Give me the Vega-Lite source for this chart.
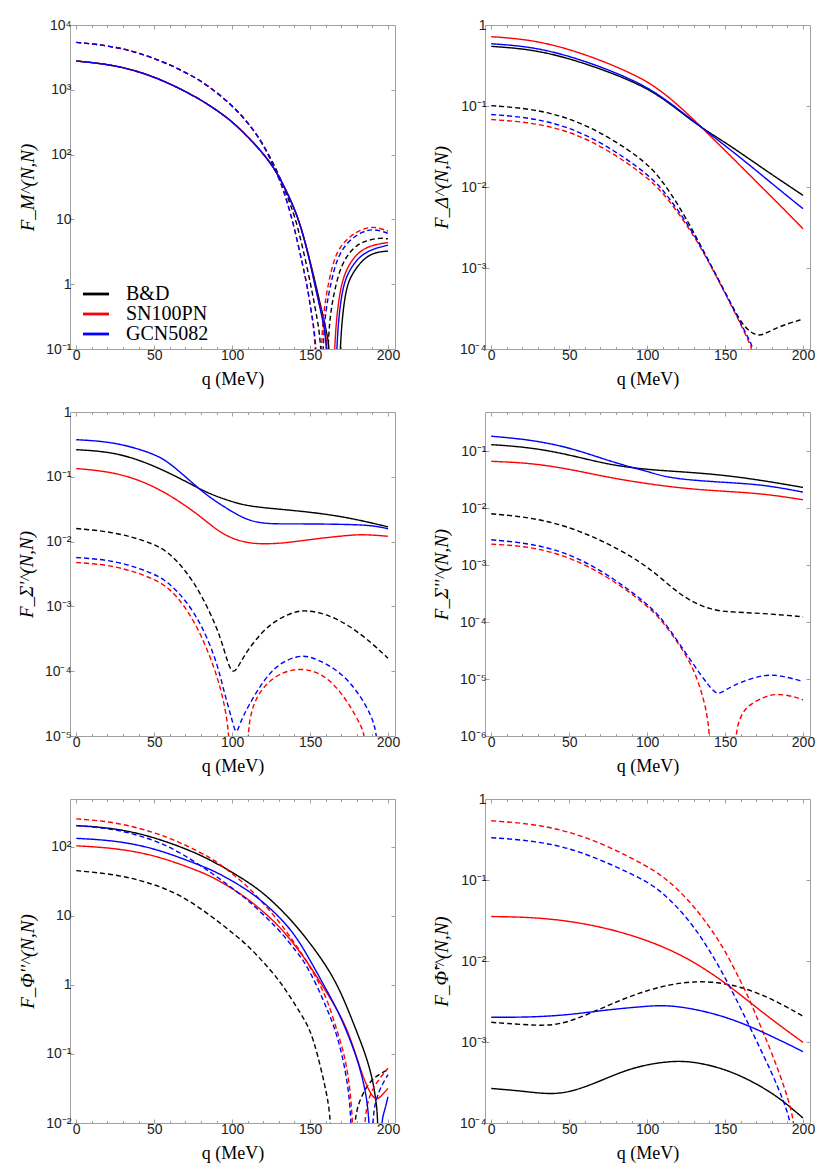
{
  "$schema": "https://vega.github.io/schema/vega-lite/v6.json",
  "padding": {"left": 16, "top": 17, "right": 5, "bottom": 5},
  "background": "white",
  "columns": 2,
  "spacing": {"row": 63, "column": 90},
  "bounds": "flush",
  "resolve": {"scale": {"color": "independent", "strokeDash": "independent"}},
  "config": {
    "view": {"stroke": "#a0a0a0", "strokeWidth": 1},
    "axis": {
      "domain": false, "grid": false,
      "tickSize": -4, "tickColor": "#a0a0a0", "tickWidth": 1,
      "labelFont": "Liberation Sans", "labelFontSize": 14, "labelColor": "#222", "labelPadding": 3,
      "titleFont": "Liberation Serif", "titleFontWeight": "normal", "titleColor": "#000"
    },
    "axisX": {"titleFontSize": 18, "titlePadding": 8},
    "axisY": {"titleFontSize": 19, "titleFontStyle": "italic", "titlePadding": 8}
  },
  "datasets": {
    "fm": [
      {"m":"B&D","ls":"solid","q":0,"v":2780},{"m":"B&D","ls":"solid","q":25,"v":2430},{"m":"B&D","ls":"solid","q":50,"v":1630},{"m":"B&D","ls":"solid","q":75,"v":832},{"m":"B&D","ls":"solid","q":90,"v":490},{"m":"B&D","ls":"solid","q":100,"v":324},{"m":"B&D","ls":"solid","q":110,"v":190},{"m":"B&D","ls":"solid","q":121.5,"v":95},{"m":"B&D","ls":"solid","q":130,"v":48},{"m":"B&D","ls":"solid","q":140,"v":15},{"m":"B&D","ls":"solid","q":145,"v":6.6},{"m":"B&D","ls":"solid","q":150,"v":2.3},{"m":"B&D","ls":"solid","q":153.6,"v":1.0},{"m":"B&D","ls":"solid","q":156,"v":0.56},{"m":"B&D","ls":"solid","q":159,"v":0.28},{"m":"B&D","ls":"solid","q":161,"v":0.16},{"m":"B&D","ls":"solid","q":162.8,"v":0.1},{"m":"B&D","ls":"solid","q":163.3,"v":0.001},{"m":"B&D","ls":"solid","q":168.1,"v":0.001},{"m":"B&D","ls":"solid","q":168.6,"v":0.1},{"m":"B&D","ls":"solid","q":172.3,"v":0.74},{"m":"B&D","ls":"solid","q":176,"v":1.35},{"m":"B&D","ls":"solid","q":183.6,"v":2.4},{"m":"B&D","ls":"solid","q":191,"v":3.1},{"m":"B&D","ls":"solid","q":200,"v":3.25},
      {"m":"B&D","ls":"dashed","q":0,"v":5400},{"m":"B&D","ls":"dashed","q":25,"v":4720},{"m":"B&D","ls":"dashed","q":50,"v":3160},{"m":"B&D","ls":"dashed","q":75,"v":1660},{"m":"B&D","ls":"dashed","q":88,"v":1000},{"m":"B&D","ls":"dashed","q":100,"v":575},{"m":"B&D","ls":"dashed","q":110,"v":316},{"m":"B&D","ls":"dashed","q":120,"v":148},{"m":"B&D","ls":"dashed","q":130,"v":50},{"m":"B&D","ls":"dashed","q":135,"v":24},{"m":"B&D","ls":"dashed","q":140,"v":11.7},{"m":"B&D","ls":"dashed","q":145,"v":4},{"m":"B&D","ls":"dashed","q":150.4,"v":1.0},{"m":"B&D","ls":"dashed","q":154,"v":0.35},{"m":"B&D","ls":"dashed","q":158,"v":0.1},{"m":"B&D","ls":"dashed","q":158.5,"v":0.001},{"m":"B&D","ls":"dashed","q":160.6,"v":0.001},{"m":"B&D","ls":"dashed","q":161.1,"v":0.1},{"m":"B&D","ls":"dashed","q":163,"v":0.35},{"m":"B&D","ls":"dashed","q":165.4,"v":0.74},{"m":"B&D","ls":"dashed","q":169.7,"v":2.0},{"m":"B&D","ls":"dashed","q":178.3,"v":3.9},{"m":"B&D","ls":"dashed","q":186.8,"v":4.8},{"m":"B&D","ls":"dashed","q":195.4,"v":5.2},{"m":"B&D","ls":"dashed","q":200,"v":5.0},
      {"m":"SN100PN","ls":"solid","q":0,"v":2780},{"m":"SN100PN","ls":"solid","q":25,"v":2430},{"m":"SN100PN","ls":"solid","q":50,"v":1630},{"m":"SN100PN","ls":"solid","q":75,"v":832},{"m":"SN100PN","ls":"solid","q":90,"v":490},{"m":"SN100PN","ls":"solid","q":100,"v":324},{"m":"SN100PN","ls":"solid","q":110,"v":190},{"m":"SN100PN","ls":"solid","q":121.5,"v":95},{"m":"SN100PN","ls":"solid","q":130,"v":48},{"m":"SN100PN","ls":"solid","q":140,"v":15},{"m":"SN100PN","ls":"solid","q":145,"v":6.6},{"m":"SN100PN","ls":"solid","q":150,"v":2.2},{"m":"SN100PN","ls":"solid","q":153,"v":1.0},{"m":"SN100PN","ls":"solid","q":156,"v":0.5},{"m":"SN100PN","ls":"solid","q":159,"v":0.25},{"m":"SN100PN","ls":"solid","q":161.7,"v":0.1},{"m":"SN100PN","ls":"solid","q":162.2,"v":0.001},{"m":"SN100PN","ls":"solid","q":164.5,"v":0.001},{"m":"SN100PN","ls":"solid","q":165,"v":0.1},{"m":"SN100PN","ls":"solid","q":168.6,"v":0.74},{"m":"SN100PN","ls":"solid","q":172.9,"v":1.7},{"m":"SN100PN","ls":"solid","q":180.4,"v":3.1},{"m":"SN100PN","ls":"solid","q":189,"v":4.0},{"m":"SN100PN","ls":"solid","q":200,"v":4.4},
      {"m":"SN100PN","ls":"dashed","q":0,"v":5400},{"m":"SN100PN","ls":"dashed","q":25,"v":4720},{"m":"SN100PN","ls":"dashed","q":50,"v":3160},{"m":"SN100PN","ls":"dashed","q":75,"v":1660},{"m":"SN100PN","ls":"dashed","q":88,"v":1000},{"m":"SN100PN","ls":"dashed","q":100,"v":575},{"m":"SN100PN","ls":"dashed","q":110,"v":316},{"m":"SN100PN","ls":"dashed","q":120,"v":148},{"m":"SN100PN","ls":"dashed","q":130,"v":45},{"m":"SN100PN","ls":"dashed","q":135,"v":20},{"m":"SN100PN","ls":"dashed","q":140,"v":7.4},{"m":"SN100PN","ls":"dashed","q":145,"v":2.1},{"m":"SN100PN","ls":"dashed","q":148,"v":1.0},{"m":"SN100PN","ls":"dashed","q":151,"v":0.35},{"m":"SN100PN","ls":"dashed","q":154.3,"v":0.1},{"m":"SN100PN","ls":"dashed","q":154.8,"v":0.001},{"m":"SN100PN","ls":"dashed","q":156.3,"v":0.001},{"m":"SN100PN","ls":"dashed","q":156.8,"v":0.1},{"m":"SN100PN","ls":"dashed","q":159,"v":0.45},{"m":"SN100PN","ls":"dashed","q":162.3,"v":1.2},{"m":"SN100PN","ls":"dashed","q":166.5,"v":3.1},{"m":"SN100PN","ls":"dashed","q":174,"v":5.2},{"m":"SN100PN","ls":"dashed","q":182.5,"v":7.0},{"m":"SN100PN","ls":"dashed","q":191,"v":7.9},{"m":"SN100PN","ls":"dashed","q":200,"v":6.6},
      {"m":"GCN5082","ls":"solid","q":0,"v":2780},{"m":"GCN5082","ls":"solid","q":25,"v":2430},{"m":"GCN5082","ls":"solid","q":50,"v":1630},{"m":"GCN5082","ls":"solid","q":75,"v":832},{"m":"GCN5082","ls":"solid","q":90,"v":490},{"m":"GCN5082","ls":"solid","q":100,"v":324},{"m":"GCN5082","ls":"solid","q":110,"v":190},{"m":"GCN5082","ls":"solid","q":121.5,"v":95},{"m":"GCN5082","ls":"solid","q":130,"v":48},{"m":"GCN5082","ls":"solid","q":140,"v":15},{"m":"GCN5082","ls":"solid","q":145,"v":6.6},{"m":"GCN5082","ls":"solid","q":150,"v":2.2},{"m":"GCN5082","ls":"solid","q":153,"v":1.0},{"m":"GCN5082","ls":"solid","q":156,"v":0.48},{"m":"GCN5082","ls":"solid","q":159,"v":0.22},{"m":"GCN5082","ls":"solid","q":161.1,"v":0.1},{"m":"GCN5082","ls":"solid","q":161.6,"v":0.001},{"m":"GCN5082","ls":"solid","q":165.9,"v":0.001},{"m":"GCN5082","ls":"solid","q":166.4,"v":0.1},{"m":"GCN5082","ls":"solid","q":170,"v":0.74},{"m":"GCN5082","ls":"solid","q":174,"v":1.5},{"m":"GCN5082","ls":"solid","q":181.5,"v":2.7},{"m":"GCN5082","ls":"solid","q":190,"v":3.5},{"m":"GCN5082","ls":"solid","q":200,"v":4.0},
      {"m":"GCN5082","ls":"dashed","q":0,"v":5400},{"m":"GCN5082","ls":"dashed","q":25,"v":4720},{"m":"GCN5082","ls":"dashed","q":50,"v":3160},{"m":"GCN5082","ls":"dashed","q":75,"v":1660},{"m":"GCN5082","ls":"dashed","q":88,"v":1000},{"m":"GCN5082","ls":"dashed","q":100,"v":575},{"m":"GCN5082","ls":"dashed","q":110,"v":316},{"m":"GCN5082","ls":"dashed","q":120,"v":148},{"m":"GCN5082","ls":"dashed","q":130,"v":45},{"m":"GCN5082","ls":"dashed","q":135,"v":20},{"m":"GCN5082","ls":"dashed","q":140,"v":7.4},{"m":"GCN5082","ls":"dashed","q":145,"v":2.1},{"m":"GCN5082","ls":"dashed","q":148,"v":1.0},{"m":"GCN5082","ls":"dashed","q":151,"v":0.35},{"m":"GCN5082","ls":"dashed","q":154.8,"v":0.1},{"m":"GCN5082","ls":"dashed","q":155.3,"v":0.001},{"m":"GCN5082","ls":"dashed","q":157.4,"v":0.001},{"m":"GCN5082","ls":"dashed","q":157.9,"v":0.1},{"m":"GCN5082","ls":"dashed","q":160,"v":0.4},{"m":"GCN5082","ls":"dashed","q":163.4,"v":1.07},{"m":"GCN5082","ls":"dashed","q":167.6,"v":2.7},{"m":"GCN5082","ls":"dashed","q":175,"v":4.8},{"m":"GCN5082","ls":"dashed","q":183.6,"v":6.5},{"m":"GCN5082","ls":"dashed","q":191,"v":7.2},{"m":"GCN5082","ls":"dashed","q":200,"v":6.1}
    ],
    "fd": [
      {"m":"B&D","ls":"solid","q":0,"v":0.545},{"m":"B&D","ls":"solid","q":25,"v":0.504},{"m":"B&D","ls":"solid","q":50,"v":0.389},{"m":"B&D","ls":"solid","q":75,"v":0.266},{"m":"B&D","ls":"solid","q":90,"v":0.202},{"m":"B&D","ls":"solid","q":100,"v":0.163},{"m":"B&D","ls":"solid","q":110,"v":0.124},{"m":"B&D","ls":"solid","q":120,"v":0.0891},{"m":"B&D","ls":"solid","q":130,"v":0.0631},{"m":"B&D","ls":"solid","q":140,"v":0.0468},{"m":"B&D","ls":"solid","q":150,"v":0.0355},{"m":"B&D","ls":"solid","q":160,"v":0.0263},{"m":"B&D","ls":"solid","q":175,"v":0.0166},{"m":"B&D","ls":"solid","q":185,"v":0.0123},{"m":"B&D","ls":"solid","q":200,"v":0.00789},
      {"m":"B&D","ls":"dashed","q":0,"v":0.101},{"m":"B&D","ls":"dashed","q":25,"v":0.0931},{"m":"B&D","ls":"dashed","q":50,"v":0.0721},{"m":"B&D","ls":"dashed","q":75,"v":0.0424},{"m":"B&D","ls":"dashed","q":100,"v":0.02},{"m":"B&D","ls":"dashed","q":110,"v":0.0117},{"m":"B&D","ls":"dashed","q":120,"v":0.00603},{"m":"B&D","ls":"dashed","q":130,"v":0.00275},{"m":"B&D","ls":"dashed","q":140,"v":0.00117},{"m":"B&D","ls":"dashed","q":150,"v":0.000501},{"m":"B&D","ls":"dashed","q":160,"v":0.000214},{"m":"B&D","ls":"dashed","q":165,"v":0.00017},{"m":"B&D","ls":"dashed","q":168,"v":0.000155},{"m":"B&D","ls":"dashed","q":172,"v":0.000146},{"m":"B&D","ls":"dashed","q":176,"v":0.000155},{"m":"B&D","ls":"dashed","q":185,"v":0.000191},{"m":"B&D","ls":"dashed","q":200,"v":0.000234},
      {"m":"SN100PN","ls":"solid","q":0,"v":0.718},{"m":"SN100PN","ls":"solid","q":25,"v":0.661},{"m":"SN100PN","ls":"solid","q":50,"v":0.507},{"m":"SN100PN","ls":"solid","q":75,"v":0.339},{"m":"SN100PN","ls":"solid","q":90,"v":0.251},{"m":"SN100PN","ls":"solid","q":100,"v":0.2},{"m":"SN100PN","ls":"solid","q":110,"v":0.148},{"m":"SN100PN","ls":"solid","q":120,"v":0.102},{"m":"SN100PN","ls":"solid","q":130,"v":0.0676},{"m":"SN100PN","ls":"solid","q":140,"v":0.0437},{"m":"SN100PN","ls":"solid","q":150,"v":0.0282},{"m":"SN100PN","ls":"solid","q":160,"v":0.0182},{"m":"SN100PN","ls":"solid","q":175,"v":0.00933},{"m":"SN100PN","ls":"solid","q":185,"v":0.00603},{"m":"SN100PN","ls":"solid","q":200,"v":0.00305},
      {"m":"SN100PN","ls":"dashed","q":0,"v":0.068},{"m":"SN100PN","ls":"dashed","q":25,"v":0.0631},{"m":"SN100PN","ls":"dashed","q":50,"v":0.0493},{"m":"SN100PN","ls":"dashed","q":75,"v":0.029},{"m":"SN100PN","ls":"dashed","q":100,"v":0.0133},{"m":"SN100PN","ls":"dashed","q":110,"v":0.00851},{"m":"SN100PN","ls":"dashed","q":120,"v":0.00479},{"m":"SN100PN","ls":"dashed","q":130,"v":0.00251},{"m":"SN100PN","ls":"dashed","q":140,"v":0.00115},{"m":"SN100PN","ls":"dashed","q":150,"v":0.00049},{"m":"SN100PN","ls":"dashed","q":160,"v":0.000204},{"m":"SN100PN","ls":"dashed","q":165,"v":0.000126},{"m":"SN100PN","ls":"dashed","q":167.5,"v":0.0001},{"m":"SN100PN","ls":"dashed","q":168.5,"v":0.00005},
      {"m":"GCN5082","ls":"solid","q":0,"v":0.587},{"m":"GCN5082","ls":"solid","q":25,"v":0.542},{"m":"GCN5082","ls":"solid","q":50,"v":0.417},{"m":"GCN5082","ls":"solid","q":75,"v":0.282},{"m":"GCN5082","ls":"solid","q":90,"v":0.211},{"m":"GCN5082","ls":"solid","q":100,"v":0.169},{"m":"GCN5082","ls":"solid","q":110,"v":0.127},{"m":"GCN5082","ls":"solid","q":120,"v":0.0912},{"m":"GCN5082","ls":"solid","q":130,"v":0.0646},{"m":"GCN5082","ls":"solid","q":140,"v":0.0457},{"m":"GCN5082","ls":"solid","q":150,"v":0.0324},{"m":"GCN5082","ls":"solid","q":160,"v":0.0229},{"m":"GCN5082","ls":"solid","q":175,"v":0.0133},{"m":"GCN5082","ls":"solid","q":185,"v":0.00923},{"m":"GCN5082","ls":"solid","q":200,"v":0.0054},
      {"m":"GCN5082","ls":"dashed","q":0,"v":0.0785},{"m":"GCN5082","ls":"dashed","q":25,"v":0.0721},{"m":"GCN5082","ls":"dashed","q":50,"v":0.0552},{"m":"GCN5082","ls":"dashed","q":75,"v":0.0321},{"m":"GCN5082","ls":"dashed","q":100,"v":0.0146},{"m":"GCN5082","ls":"dashed","q":110,"v":0.00933},{"m":"GCN5082","ls":"dashed","q":120,"v":0.00513},{"m":"GCN5082","ls":"dashed","q":130,"v":0.00263},{"m":"GCN5082","ls":"dashed","q":140,"v":0.00117},{"m":"GCN5082","ls":"dashed","q":150,"v":0.000501},{"m":"GCN5082","ls":"dashed","q":160,"v":0.000209},{"m":"GCN5082","ls":"dashed","q":165,"v":0.000135},{"m":"GCN5082","ls":"dashed","q":168.5,"v":0.0001},{"m":"GCN5082","ls":"dashed","q":169.5,"v":0.00005}
    ],
    "fsp": [
      {"m":"B&D","ls":"solid","q":0,"v":0.262},{"m":"B&D","ls":"solid","q":25,"v":0.242},{"m":"B&D","ls":"solid","q":50,"v":0.151},{"m":"B&D","ls":"solid","q":75,"v":0.0741},{"m":"B&D","ls":"solid","q":85,"v":0.055},{"m":"B&D","ls":"solid","q":100,"v":0.041},{"m":"B&D","ls":"solid","q":110,"v":0.0356},{"m":"B&D","ls":"solid","q":125,"v":0.0324},{"m":"B&D","ls":"solid","q":150,"v":0.0287},{"m":"B&D","ls":"solid","q":175,"v":0.0235},{"m":"B&D","ls":"solid","q":200,"v":0.0169},
      {"m":"B&D","ls":"dashed","q":0,"v":0.0159},{"m":"B&D","ls":"dashed","q":25,"v":0.0141},{"m":"B&D","ls":"dashed","q":50,"v":0.00933},{"m":"B&D","ls":"dashed","q":60,"v":0.0066},{"m":"B&D","ls":"dashed","q":70,"v":0.00363},{"m":"B&D","ls":"dashed","q":80,"v":0.00158},{"m":"B&D","ls":"dashed","q":90,"v":0.00049},{"m":"B&D","ls":"dashed","q":95,"v":0.000212},{"m":"B&D","ls":"dashed","q":100,"v":0.00008},{"m":"B&D","ls":"dashed","q":105,"v":0.000132},{"m":"B&D","ls":"dashed","q":110,"v":0.000212},{"m":"B&D","ls":"dashed","q":120,"v":0.00043},{"m":"B&D","ls":"dashed","q":130,"v":0.00065},{"m":"B&D","ls":"dashed","q":140,"v":0.000826},{"m":"B&D","ls":"dashed","q":147,"v":0.000875},{"m":"B&D","ls":"dashed","q":160,"v":0.000776},{"m":"B&D","ls":"dashed","q":175,"v":0.000513},{"m":"B&D","ls":"dashed","q":190,"v":0.000269},{"m":"B&D","ls":"dashed","q":200,"v":0.000158},
      {"m":"SN100PN","ls":"solid","q":0,"v":0.134},{"m":"SN100PN","ls":"solid","q":25,"v":0.119},{"m":"SN100PN","ls":"solid","q":50,"v":0.0741},{"m":"SN100PN","ls":"solid","q":75,"v":0.0305},{"m":"SN100PN","ls":"solid","q":90,"v":0.015},{"m":"SN100PN","ls":"solid","q":100,"v":0.0111},{"m":"SN100PN","ls":"solid","q":110,"v":0.00955},{"m":"SN100PN","ls":"solid","q":120,"v":0.00912},{"m":"SN100PN","ls":"solid","q":135,"v":0.00955},{"m":"SN100PN","ls":"solid","q":150,"v":0.0108},{"m":"SN100PN","ls":"solid","q":175,"v":0.0126},{"m":"SN100PN","ls":"solid","q":185,"v":0.0129},{"m":"SN100PN","ls":"solid","q":200,"v":0.0121},
      {"m":"SN100PN","ls":"dashed","q":0,"v":0.00475},{"m":"SN100PN","ls":"dashed","q":25,"v":0.00433},{"m":"SN100PN","ls":"dashed","q":50,"v":0.00269},{"m":"SN100PN","ls":"dashed","q":60,"v":0.00189},{"m":"SN100PN","ls":"dashed","q":70,"v":0.00099},{"m":"SN100PN","ls":"dashed","q":80,"v":0.00038},{"m":"SN100PN","ls":"dashed","q":90,"v":0.000093},{"m":"SN100PN","ls":"dashed","q":95,"v":0.000032},{"m":"SN100PN","ls":"dashed","q":98.5,"v":0.00001},{"m":"SN100PN","ls":"dashed","q":99,"v":0.000001},{"m":"SN100PN","ls":"dashed","q":109.3,"v":0.000001},{"m":"SN100PN","ls":"dashed","q":109.8,"v":0.00001},{"m":"SN100PN","ls":"dashed","q":112,"v":0.0000224},{"m":"SN100PN","ls":"dashed","q":115,"v":0.000036},{"m":"SN100PN","ls":"dashed","q":120,"v":0.0000575},{"m":"SN100PN","ls":"dashed","q":130,"v":0.000093},{"m":"SN100PN","ls":"dashed","q":143,"v":0.000112},{"m":"SN100PN","ls":"dashed","q":155,"v":0.000098},{"m":"SN100PN","ls":"dashed","q":165,"v":0.000065},{"m":"SN100PN","ls":"dashed","q":175,"v":0.000032},{"m":"SN100PN","ls":"dashed","q":183,"v":0.0000138},{"m":"SN100PN","ls":"dashed","q":185.5,"v":0.00001},{"m":"SN100PN","ls":"dashed","q":186,"v":0.000001},
      {"m":"GCN5082","ls":"solid","q":0,"v":0.374},{"m":"GCN5082","ls":"solid","q":25,"v":0.345},{"m":"GCN5082","ls":"solid","q":50,"v":0.228},{"m":"GCN5082","ls":"solid","q":60,"v":0.164},{"m":"GCN5082","ls":"solid","q":75,"v":0.0785},{"m":"GCN5082","ls":"solid","q":85,"v":0.049},{"m":"GCN5082","ls":"solid","q":100,"v":0.0287},{"m":"GCN5082","ls":"solid","q":110,"v":0.0214},{"m":"GCN5082","ls":"solid","q":120,"v":0.0191},{"m":"GCN5082","ls":"solid","q":130,"v":0.0187},{"m":"GCN5082","ls":"solid","q":150,"v":0.0188},{"m":"GCN5082","ls":"solid","q":175,"v":0.0184},{"m":"GCN5082","ls":"solid","q":190,"v":0.0178},{"m":"GCN5082","ls":"solid","q":200,"v":0.0158},
      {"m":"GCN5082","ls":"dashed","q":0,"v":0.00568},{"m":"GCN5082","ls":"dashed","q":25,"v":0.00516},{"m":"GCN5082","ls":"dashed","q":50,"v":0.00324},{"m":"GCN5082","ls":"dashed","q":60,"v":0.00226},{"m":"GCN5082","ls":"dashed","q":70,"v":0.00126},{"m":"GCN5082","ls":"dashed","q":80,"v":0.00055},{"m":"GCN5082","ls":"dashed","q":90,"v":0.000148},{"m":"GCN5082","ls":"dashed","q":95,"v":0.000046},{"m":"GCN5082","ls":"dashed","q":100,"v":0.0000178},{"m":"GCN5082","ls":"dashed","q":102.5,"v":0.00001},{"m":"GCN5082","ls":"dashed","q":105,"v":0.0000158},{"m":"GCN5082","ls":"dashed","q":110,"v":0.000028},{"m":"GCN5082","ls":"dashed","q":120,"v":0.000072},{"m":"GCN5082","ls":"dashed","q":130,"v":0.000132},{"m":"GCN5082","ls":"dashed","q":142,"v":0.000174},{"m":"GCN5082","ls":"dashed","q":150,"v":0.00017},{"m":"GCN5082","ls":"dashed","q":160,"v":0.000132},{"m":"GCN5082","ls":"dashed","q":170,"v":0.000093},{"m":"GCN5082","ls":"dashed","q":180,"v":0.000051},{"m":"GCN5082","ls":"dashed","q":190,"v":0.00002},{"m":"GCN5082","ls":"dashed","q":193,"v":0.00001},{"m":"GCN5082","ls":"dashed","q":194,"v":0.000003}
    ],
    "fspp": [
      {"m":"B&D","ls":"solid","q":0,"v":0.131},{"m":"B&D","ls":"solid","q":25,"v":0.1175},{"m":"B&D","ls":"solid","q":50,"v":0.0873},{"m":"B&D","ls":"solid","q":75,"v":0.0582},{"m":"B&D","ls":"solid","q":100,"v":0.0475},{"m":"B&D","ls":"solid","q":125,"v":0.0433},{"m":"B&D","ls":"solid","q":150,"v":0.038},{"m":"B&D","ls":"solid","q":175,"v":0.0305},{"m":"B&D","ls":"solid","q":200,"v":0.0232},
      {"m":"B&D","ls":"dashed","q":0,"v":0.008},{"m":"B&D","ls":"dashed","q":25,"v":0.00692},{"m":"B&D","ls":"dashed","q":50,"v":0.00479},{"m":"B&D","ls":"dashed","q":75,"v":0.0024},{"m":"B&D","ls":"dashed","q":90,"v":0.00141},{"m":"B&D","ls":"dashed","q":100,"v":0.000933},{"m":"B&D","ls":"dashed","q":110,"v":0.000562},{"m":"B&D","ls":"dashed","q":120,"v":0.000324},{"m":"B&D","ls":"dashed","q":130,"v":0.000219},{"m":"B&D","ls":"dashed","q":140,"v":0.00017},{"m":"B&D","ls":"dashed","q":150,"v":0.000151},{"m":"B&D","ls":"dashed","q":175,"v":0.000143},{"m":"B&D","ls":"dashed","q":200,"v":0.000124},
      {"m":"SN100PN","ls":"solid","q":0,"v":0.0667},{"m":"SN100PN","ls":"solid","q":25,"v":0.0624},{"m":"SN100PN","ls":"solid","q":50,"v":0.0489},{"m":"SN100PN","ls":"solid","q":75,"v":0.0348},{"m":"SN100PN","ls":"solid","q":100,"v":0.0269},{"m":"SN100PN","ls":"solid","q":125,"v":0.022},{"m":"SN100PN","ls":"solid","q":150,"v":0.0198},{"m":"SN100PN","ls":"solid","q":175,"v":0.018},{"m":"SN100PN","ls":"solid","q":200,"v":0.0141},
      {"m":"SN100PN","ls":"dashed","q":0,"v":0.00234},{"m":"SN100PN","ls":"dashed","q":25,"v":0.00214},{"m":"SN100PN","ls":"dashed","q":50,"v":0.00141},{"m":"SN100PN","ls":"dashed","q":75,"v":0.00063},{"m":"SN100PN","ls":"dashed","q":100,"v":0.0002},{"m":"SN100PN","ls":"dashed","q":110,"v":0.000102},{"m":"SN100PN","ls":"dashed","q":120,"v":0.000043},{"m":"SN100PN","ls":"dashed","q":130,"v":0.0000155},{"m":"SN100PN","ls":"dashed","q":137,"v":0.000004},{"m":"SN100PN","ls":"dashed","q":141,"v":0.000001},{"m":"SN100PN","ls":"dashed","q":141.5,"v":0.00000001},{"m":"SN100PN","ls":"dashed","q":155.2,"v":0.00000001},{"m":"SN100PN","ls":"dashed","q":155.7,"v":0.000001},{"m":"SN100PN","ls":"dashed","q":160,"v":0.0000023},{"m":"SN100PN","ls":"dashed","q":165,"v":0.0000035},{"m":"SN100PN","ls":"dashed","q":175,"v":0.0000049},{"m":"SN100PN","ls":"dashed","q":183,"v":0.0000056},{"m":"SN100PN","ls":"dashed","q":195,"v":0.0000049},{"m":"SN100PN","ls":"dashed","q":200,"v":0.0000043},
      {"m":"GCN5082","ls":"solid","q":0,"v":0.184},{"m":"GCN5082","ls":"solid","q":25,"v":0.16},{"m":"GCN5082","ls":"solid","q":50,"v":0.1175},{"m":"GCN5082","ls":"solid","q":75,"v":0.0686},{"m":"GCN5082","ls":"solid","q":90,"v":0.0525},{"m":"GCN5082","ls":"solid","q":100,"v":0.0445},{"m":"GCN5082","ls":"solid","q":110,"v":0.0363},{"m":"GCN5082","ls":"solid","q":125,"v":0.0316},{"m":"GCN5082","ls":"solid","q":150,"v":0.0284},{"m":"GCN5082","ls":"solid","q":175,"v":0.0259},{"m":"GCN5082","ls":"solid","q":200,"v":0.0192},
      {"m":"GCN5082","ls":"dashed","q":0,"v":0.00279},{"m":"GCN5082","ls":"dashed","q":25,"v":0.00243},{"m":"GCN5082","ls":"dashed","q":50,"v":0.00162},{"m":"GCN5082","ls":"dashed","q":75,"v":0.00069},{"m":"GCN5082","ls":"dashed","q":100,"v":0.000214},{"m":"GCN5082","ls":"dashed","q":110,"v":0.00011},{"m":"GCN5082","ls":"dashed","q":120,"v":0.000045},{"m":"GCN5082","ls":"dashed","q":130,"v":0.0000175},{"m":"GCN5082","ls":"dashed","q":140,"v":0.0000073},{"m":"GCN5082","ls":"dashed","q":145,"v":0.0000052},{"m":"GCN5082","ls":"dashed","q":150,"v":0.0000064},{"m":"GCN5082","ls":"dashed","q":160,"v":0.0000089},{"m":"GCN5082","ls":"dashed","q":175,"v":0.000012},{"m":"GCN5082","ls":"dashed","q":185,"v":0.0000117},{"m":"GCN5082","ls":"dashed","q":200,"v":0.0000091}
    ],
    "fpp": [
      {"m":"B&D","ls":"solid","q":0,"v":202},{"m":"B&D","ls":"solid","q":25,"v":186},{"m":"B&D","ls":"solid","q":50,"v":138},{"m":"B&D","ls":"solid","q":75,"v":85},{"m":"B&D","ls":"solid","q":88.3,"v":60.3},{"m":"B&D","ls":"solid","q":100,"v":42.7},{"m":"B&D","ls":"solid","q":110,"v":30.9},{"m":"B&D","ls":"solid","q":120,"v":21.4},{"m":"B&D","ls":"solid","q":131,"v":12.6},{"m":"B&D","ls":"solid","q":140,"v":7.6},{"m":"B&D","ls":"solid","q":147,"v":4.9},{"m":"B&D","ls":"solid","q":159,"v":2.14},{"m":"B&D","ls":"solid","q":169.4,"v":0.85},{"m":"B&D","ls":"solid","q":180.3,"v":0.2},{"m":"B&D","ls":"solid","q":185.5,"v":0.1},{"m":"B&D","ls":"solid","q":190,"v":0.045},{"m":"B&D","ls":"solid","q":192.5,"v":0.02},{"m":"B&D","ls":"solid","q":193.8,"v":0.01},{"m":"B&D","ls":"solid","q":194.3,"v":0.0001},
      {"m":"B&D","ls":"dashed","q":0,"v":45},{"m":"B&D","ls":"dashed","q":25,"v":39.8},{"m":"B&D","ls":"dashed","q":45.6,"v":30.9},{"m":"B&D","ls":"dashed","q":67,"v":20.4},{"m":"B&D","ls":"dashed","q":88.3,"v":9.3},{"m":"B&D","ls":"dashed","q":100,"v":5.7},{"m":"B&D","ls":"dashed","q":109.7,"v":3.8},{"m":"B&D","ls":"dashed","q":120,"v":2.14},{"m":"B&D","ls":"dashed","q":131.1,"v":1.12},{"m":"B&D","ls":"dashed","q":145,"v":0.355},{"m":"B&D","ls":"dashed","q":150,"v":0.224},{"m":"B&D","ls":"dashed","q":154.7,"v":0.102},{"m":"B&D","ls":"dashed","q":160,"v":0.0316},{"m":"B&D","ls":"dashed","q":164.3,"v":0.01},{"m":"B&D","ls":"dashed","q":164.8,"v":0.0001},{"m":"B&D","ls":"dashed","q":176.5,"v":0.0001},{"m":"B&D","ls":"dashed","q":177,"v":0.01},{"m":"B&D","ls":"dashed","q":182.5,"v":0.024},{"m":"B&D","ls":"dashed","q":188.9,"v":0.0417},{"m":"B&D","ls":"dashed","q":195.3,"v":0.0525},{"m":"B&D","ls":"dashed","q":200,"v":0.059},
      {"m":"SN100PN","ls":"solid","q":0,"v":103},{"m":"SN100PN","ls":"solid","q":25,"v":95.5},{"m":"SN100PN","ls":"solid","q":50,"v":75.9},{"m":"SN100PN","ls":"solid","q":75,"v":47.9},{"m":"SN100PN","ls":"solid","q":88.3,"v":35.8},{"m":"SN100PN","ls":"solid","q":100,"v":24.8},{"m":"SN100PN","ls":"solid","q":110,"v":17.6},{"m":"SN100PN","ls":"solid","q":120,"v":11.5},{"m":"SN100PN","ls":"solid","q":131,"v":6.8},{"m":"SN100PN","ls":"solid","q":140,"v":3.8},{"m":"SN100PN","ls":"solid","q":148,"v":2.19},{"m":"SN100PN","ls":"solid","q":156.8,"v":1.07},{"m":"SN100PN","ls":"solid","q":167.6,"v":0.436},{"m":"SN100PN","ls":"solid","q":175,"v":0.2},{"m":"SN100PN","ls":"solid","q":182.5,"v":0.058},{"m":"SN100PN","ls":"solid","q":187,"v":0.0316},{"m":"SN100PN","ls":"solid","q":192,"v":0.0205},{"m":"SN100PN","ls":"solid","q":196,"v":0.0251},{"m":"SN100PN","ls":"solid","q":200,"v":0.0316},
      {"m":"SN100PN","ls":"dashed","q":0,"v":253},{"m":"SN100PN","ls":"dashed","q":25,"v":229},{"m":"SN100PN","ls":"dashed","q":50,"v":162},{"m":"SN100PN","ls":"dashed","q":67,"v":115},{"m":"SN100PN","ls":"dashed","q":88.3,"v":66},{"m":"SN100PN","ls":"dashed","q":100,"v":40.7},{"m":"SN100PN","ls":"dashed","q":110,"v":26.9},{"m":"SN100PN","ls":"dashed","q":120,"v":15.1},{"m":"SN100PN","ls":"dashed","q":131,"v":7.9},{"m":"SN100PN","ls":"dashed","q":140,"v":4.0},{"m":"SN100PN","ls":"dashed","q":146,"v":2.6},{"m":"SN100PN","ls":"dashed","q":154.7,"v":1.19},{"m":"SN100PN","ls":"dashed","q":161.1,"v":0.608},{"m":"SN100PN","ls":"dashed","q":166.4,"v":0.251},{"m":"SN100PN","ls":"dashed","q":170,"v":0.141},{"m":"SN100PN","ls":"dashed","q":174,"v":0.063},{"m":"SN100PN","ls":"dashed","q":178.2,"v":0.01},{"m":"SN100PN","ls":"dashed","q":178.7,"v":0.0001},{"m":"SN100PN","ls":"dashed","q":183.5,"v":0.0001},{"m":"SN100PN","ls":"dashed","q":184,"v":0.01},{"m":"SN100PN","ls":"dashed","q":187.8,"v":0.025},{"m":"SN100PN","ls":"dashed","q":193,"v":0.04},{"m":"SN100PN","ls":"dashed","q":200,"v":0.062},
      {"m":"GCN5082","ls":"solid","q":0,"v":132},{"m":"GCN5082","ls":"solid","q":25,"v":123},{"m":"GCN5082","ls":"solid","q":50,"v":95.5},{"m":"GCN5082","ls":"solid","q":75,"v":58.9},{"m":"GCN5082","ls":"solid","q":88.3,"v":44.8},{"m":"GCN5082","ls":"solid","q":100,"v":32},{"m":"GCN5082","ls":"solid","q":110,"v":23.4},{"m":"GCN5082","ls":"solid","q":120,"v":15.8},{"m":"GCN5082","ls":"solid","q":131,"v":9.3},{"m":"GCN5082","ls":"solid","q":140,"v":5.4},{"m":"GCN5082","ls":"solid","q":148,"v":2.75},{"m":"GCN5082","ls":"solid","q":156.8,"v":1.2},{"m":"GCN5082","ls":"solid","q":167.6,"v":0.436},{"m":"GCN5082","ls":"solid","q":174,"v":0.2},{"m":"GCN5082","ls":"solid","q":180,"v":0.089},{"m":"GCN5082","ls":"solid","q":185,"v":0.035},{"m":"GCN5082","ls":"solid","q":188.9,"v":0.01},{"m":"GCN5082","ls":"solid","q":189.4,"v":0.0001},{"m":"GCN5082","ls":"solid","q":194.7,"v":0.0001},{"m":"GCN5082","ls":"solid","q":195.2,"v":0.01},{"m":"GCN5082","ls":"solid","q":197.5,"v":0.014},{"m":"GCN5082","ls":"solid","q":200,"v":0.024},
      {"m":"GCN5082","ls":"dashed","q":0,"v":202},{"m":"GCN5082","ls":"dashed","q":25,"v":182},{"m":"GCN5082","ls":"dashed","q":50,"v":126},{"m":"GCN5082","ls":"dashed","q":67,"v":82.6},{"m":"GCN5082","ls":"dashed","q":88.3,"v":39.8},{"m":"GCN5082","ls":"dashed","q":100,"v":25.1},{"m":"GCN5082","ls":"dashed","q":110,"v":17},{"m":"GCN5082","ls":"dashed","q":120,"v":10.4},{"m":"GCN5082","ls":"dashed","q":131,"v":6.0},{"m":"GCN5082","ls":"dashed","q":141.8,"v":2.9},{"m":"GCN5082","ls":"dashed","q":146,"v":2.24},{"m":"GCN5082","ls":"dashed","q":154.7,"v":0.955},{"m":"GCN5082","ls":"dashed","q":161.1,"v":0.436},{"m":"GCN5082","ls":"dashed","q":165.4,"v":0.251},{"m":"GCN5082","ls":"dashed","q":170,"v":0.112},{"m":"GCN5082","ls":"dashed","q":174,"v":0.04},{"m":"GCN5082","ls":"dashed","q":177,"v":0.01},{"m":"GCN5082","ls":"dashed","q":177.5,"v":0.0001},{"m":"GCN5082","ls":"dashed","q":189,"v":0.0001},{"m":"GCN5082","ls":"dashed","q":189.5,"v":0.01},{"m":"GCN5082","ls":"dashed","q":192,"v":0.0214},{"m":"GCN5082","ls":"dashed","q":196,"v":0.0355},{"m":"GCN5082","ls":"dashed","q":200,"v":0.05}
    ],
    "fpt": [
      {"m":"B&D","ls":"solid","q":0,"v":0.000267},{"m":"B&D","ls":"solid","q":20,"v":0.000248},{"m":"B&D","ls":"solid","q":40,"v":0.000222},{"m":"B&D","ls":"solid","q":55,"v":0.000255},{"m":"B&D","ls":"solid","q":70,"v":0.000331},{"m":"B&D","ls":"solid","q":85,"v":0.000439},{"m":"B&D","ls":"solid","q":100,"v":0.000531},{"m":"B&D","ls":"solid","q":120,"v":0.000595},{"m":"B&D","ls":"solid","q":135,"v":0.000547},{"m":"B&D","ls":"solid","q":150,"v":0.00046},{"m":"B&D","ls":"solid","q":165,"v":0.000346},{"m":"B&D","ls":"solid","q":180,"v":0.000236},{"m":"B&D","ls":"solid","q":190,"v":0.000169},{"m":"B&D","ls":"solid","q":200,"v":0.000115},
      {"m":"B&D","ls":"dashed","q":0,"v":0.00175},{"m":"B&D","ls":"dashed","q":20,"v":0.00164},{"m":"B&D","ls":"dashed","q":40,"v":0.00157},{"m":"B&D","ls":"dashed","q":55,"v":0.00193},{"m":"B&D","ls":"dashed","q":70,"v":0.00257},{"m":"B&D","ls":"dashed","q":85,"v":0.00342},{"m":"B&D","ls":"dashed","q":100,"v":0.00434},{"m":"B&D","ls":"dashed","q":115,"v":0.00515},{"m":"B&D","ls":"dashed","q":130,"v":0.0056},{"m":"B&D","ls":"dashed","q":145,"v":0.0055},{"m":"B&D","ls":"dashed","q":160,"v":0.00479},{"m":"B&D","ls":"dashed","q":175,"v":0.00376},{"m":"B&D","ls":"dashed","q":190,"v":0.00269},{"m":"B&D","ls":"dashed","q":200,"v":0.00208},
      {"m":"SN100PN","ls":"solid","q":0,"v":0.0354},{"m":"SN100PN","ls":"solid","q":25,"v":0.0348},{"m":"SN100PN","ls":"solid","q":50,"v":0.0313},{"m":"SN100PN","ls":"solid","q":75,"v":0.0253},{"m":"SN100PN","ls":"solid","q":100,"v":0.0182},{"m":"SN100PN","ls":"solid","q":125,"v":0.0113},{"m":"SN100PN","ls":"solid","q":150,"v":0.0055},{"m":"SN100PN","ls":"solid","q":175,"v":0.00222},{"m":"SN100PN","ls":"solid","q":200,"v":0.00099},
      {"m":"SN100PN","ls":"dashed","q":0,"v":0.538},{"m":"SN100PN","ls":"dashed","q":25,"v":0.498},{"m":"SN100PN","ls":"dashed","q":50,"v":0.4},{"m":"SN100PN","ls":"dashed","q":75,"v":0.263},{"m":"SN100PN","ls":"dashed","q":100,"v":0.148},{"m":"SN100PN","ls":"dashed","q":110,"v":0.111},{"m":"SN100PN","ls":"dashed","q":120,"v":0.076},{"m":"SN100PN","ls":"dashed","q":130,"v":0.0472},{"m":"SN100PN","ls":"dashed","q":140,"v":0.0266},{"m":"SN100PN","ls":"dashed","q":150,"v":0.0136},{"m":"SN100PN","ls":"dashed","q":160,"v":0.0056},{"m":"SN100PN","ls":"dashed","q":165,"v":0.0036},{"m":"SN100PN","ls":"dashed","q":170,"v":0.0021},{"m":"SN100PN","ls":"dashed","q":180,"v":0.00074},{"m":"SN100PN","ls":"dashed","q":190,"v":0.00022},{"m":"SN100PN","ls":"dashed","q":194.5,"v":0.0001},{"m":"SN100PN","ls":"dashed","q":195,"v":0.00005},
      {"m":"GCN5082","ls":"solid","q":0,"v":0.00202},{"m":"GCN5082","ls":"solid","q":25,"v":0.00202},{"m":"GCN5082","ls":"solid","q":50,"v":0.00216},{"m":"GCN5082","ls":"solid","q":75,"v":0.00251},{"m":"GCN5082","ls":"solid","q":100,"v":0.00277},{"m":"GCN5082","ls":"solid","q":110,"v":0.00284},{"m":"GCN5082","ls":"solid","q":125,"v":0.00269},{"m":"GCN5082","ls":"solid","q":150,"v":0.00209},{"m":"GCN5082","ls":"solid","q":175,"v":0.00132},{"m":"GCN5082","ls":"solid","q":200,"v":0.00076},
      {"m":"GCN5082","ls":"dashed","q":0,"v":0.333},{"m":"GCN5082","ls":"dashed","q":25,"v":0.309},{"m":"GCN5082","ls":"dashed","q":50,"v":0.251},{"m":"GCN5082","ls":"dashed","q":75,"v":0.163},{"m":"GCN5082","ls":"dashed","q":100,"v":0.0964},{"m":"GCN5082","ls":"dashed","q":110,"v":0.0692},{"m":"GCN5082","ls":"dashed","q":120,"v":0.045},{"m":"GCN5082","ls":"dashed","q":130,"v":0.0266},{"m":"GCN5082","ls":"dashed","q":140,"v":0.01365},{"m":"GCN5082","ls":"dashed","q":150,"v":0.0063},{"m":"GCN5082","ls":"dashed","q":160,"v":0.00263},{"m":"GCN5082","ls":"dashed","q":170,"v":0.00105},{"m":"GCN5082","ls":"dashed","q":180,"v":0.000417},{"m":"GCN5082","ls":"dashed","q":187,"v":0.0002},{"m":"GCN5082","ls":"dashed","q":192.5,"v":0.0001},{"m":"GCN5082","ls":"dashed","q":193,"v":0.00005}
    ]
  },
  "concat": [
    {
      "width": 325, "height": 324,
      "data": {"name": "fm"},
      "layer": [
        {"mark": {"type": "line", "clip": true, "strokeWidth": 1.4, "interpolate": "basis"},
         "encoding": {
           "x": {"field": "q", "type": "quantitative", "scale": {"domain": [-4, 204.5], "nice": false, "zero": false}, "axis": {"orient": "bottom", "values": [0, 50, 100, 150, 200], "title": "q (MeV)"}},
           "y": {"field": "v", "type": "quantitative", "scale": {"type": "log", "domain": [0.1, 10000], "nice": false}, "axis": {"orient": "left", "values": [0.1, 1, 10, 100, 1000, 10000], "labelExpr": "['10⁻⁶','10⁻⁵','10⁻⁴','10⁻³','10⁻²','10⁻¹','1','10','10²','10³','10⁴'][round(log(datum.value)/LN10)+6]", "title": "F_M^(N,N)"}},
           "color": {"field": "m", "type": "nominal", "scale": {"domain": ["B&D", "SN100PN", "GCN5082"], "range": ["#000000", "#ff0000", "#0000ff"]},
             "legend": {"orient": "none", "legendX": 16, "legendY": 259, "title": null, "symbolType": "M-2.6,0H2.6", "symbolSize": 100, "symbolStrokeWidth": 2.8, "labelFont": "Liberation Serif", "labelFontSize": 20, "labelColor": "#000", "labelOffset": 20, "rowPadding": 0, "padding": 0}},
           "strokeDash": {"field": "ls", "type": "nominal", "scale": {"domain": ["solid", "dashed"], "range": [[1, 0], [5, 3]]}, "legend": null}
         }},
        {"mark": {"type": "point", "opacity": 0},
         "encoding": {
           "x": {"field": "q", "type": "quantitative", "scale": {"domain": [-4, 204.5], "nice": false, "zero": false}, "axis": {"orient": "bottom", "values": [10, 20, 30, 40, 60, 70, 80, 90, 110, 120, 130, 140, 160, 170, 180, 190], "labels": false, "tickSize": -2.5, "title": null}},
           "y": {"field": "v", "type": "quantitative", "scale": {"type": "log", "domain": [0.1, 10000], "nice": false}, "axis": {"orient": "right", "values": [0.1, 1, 10, 100, 1000, 10000], "labels": false, "title": null}}
         }},
        {"mark": {"type": "point", "opacity": 0},
         "encoding": {
           "x": {"field": "q", "type": "quantitative", "scale": {"domain": [-4, 204.5], "nice": false, "zero": false}, "axis": {"orient": "top", "values": [0, 50, 100, 150, 200], "labels": false, "title": null}},
           "y": {"field": "v", "type": "quantitative", "scale": {"type": "log", "domain": [0.1, 10000], "nice": false}, "axis": null}
         }},
        {"mark": {"type": "point", "opacity": 0},
         "encoding": {
           "x": {"field": "q", "type": "quantitative", "scale": {"domain": [-4, 204.5], "nice": false, "zero": false}, "axis": {"orient": "top", "values": [10, 20, 30, 40, 60, 70, 80, 90, 110, 120, 130, 140, 160, 170, 180, 190], "labels": false, "tickSize": -2.5, "title": null}},
           "y": {"field": "v", "type": "quantitative", "scale": {"type": "log", "domain": [0.1, 10000], "nice": false}, "axis": null}
         }}
      ],
      "resolve": {"axis": {"x": "independent", "y": "independent"}}
    },
    {
      "width": 325, "height": 324,
      "data": {"name": "fd"},
      "layer": [
        {"mark": {"type": "line", "clip": true, "strokeWidth": 1.4, "interpolate": "basis"},
         "encoding": {
           "x": {"field": "q", "type": "quantitative", "scale": {"domain": [-4, 204.5], "nice": false, "zero": false}, "axis": {"orient": "bottom", "values": [0, 50, 100, 150, 200], "title": "q (MeV)"}},
           "y": {"field": "v", "type": "quantitative", "scale": {"type": "log", "domain": [0.0001, 1], "nice": false}, "axis": {"orient": "left", "values": [0.0001, 0.001, 0.01, 0.1, 1], "labelExpr": "['10⁻⁶','10⁻⁵','10⁻⁴','10⁻³','10⁻²','10⁻¹','1','10','10²','10³','10⁴'][round(log(datum.value)/LN10)+6]", "title": "F_Δ^(N,N)"}},
           "color": {"field": "m", "type": "nominal", "scale": {"domain": ["B&D", "SN100PN", "GCN5082"], "range": ["#000000", "#ff0000", "#0000ff"]}, "legend": null},
           "strokeDash": {"field": "ls", "type": "nominal", "scale": {"domain": ["solid", "dashed"], "range": [[1, 0], [5, 3]]}, "legend": null}
         }},
        {"mark": {"type": "point", "opacity": 0},
         "encoding": {
           "x": {"field": "q", "type": "quantitative", "scale": {"domain": [-4, 204.5], "nice": false, "zero": false}, "axis": {"orient": "bottom", "values": [10, 20, 30, 40, 60, 70, 80, 90, 110, 120, 130, 140, 160, 170, 180, 190], "labels": false, "tickSize": -2.5, "title": null}},
           "y": {"field": "v", "type": "quantitative", "scale": {"type": "log", "domain": [0.0001, 1], "nice": false}, "axis": {"orient": "right", "values": [0.0001, 0.001, 0.01, 0.1, 1], "labels": false, "title": null}}
         }},
        {"mark": {"type": "point", "opacity": 0},
         "encoding": {
           "x": {"field": "q", "type": "quantitative", "scale": {"domain": [-4, 204.5], "nice": false, "zero": false}, "axis": {"orient": "top", "values": [0, 50, 100, 150, 200], "labels": false, "title": null}},
           "y": {"field": "v", "type": "quantitative", "scale": {"type": "log", "domain": [0.0001, 1], "nice": false}, "axis": null}
         }},
        {"mark": {"type": "point", "opacity": 0},
         "encoding": {
           "x": {"field": "q", "type": "quantitative", "scale": {"domain": [-4, 204.5], "nice": false, "zero": false}, "axis": {"orient": "top", "values": [10, 20, 30, 40, 60, 70, 80, 90, 110, 120, 130, 140, 160, 170, 180, 190], "labels": false, "tickSize": -2.5, "title": null}},
           "y": {"field": "v", "type": "quantitative", "scale": {"type": "log", "domain": [0.0001, 1], "nice": false}, "axis": null}
         }}
      ],
      "resolve": {"axis": {"x": "independent", "y": "independent"}}
    },
    {
      "width": 325, "height": 324,
      "data": {"name": "fsp"},
      "layer": [
        {"mark": {"type": "line", "clip": true, "strokeWidth": 1.4, "interpolate": "basis"},
         "encoding": {
           "x": {"field": "q", "type": "quantitative", "scale": {"domain": [-4, 204.5], "nice": false, "zero": false}, "axis": {"orient": "bottom", "values": [0, 50, 100, 150, 200], "title": "q (MeV)"}},
           "y": {"field": "v", "type": "quantitative", "scale": {"type": "log", "domain": [0.00001, 1], "nice": false}, "axis": {"orient": "left", "values": [0.00001, 0.0001, 0.001, 0.01, 0.1, 1], "labelExpr": "['10⁻⁶','10⁻⁵','10⁻⁴','10⁻³','10⁻²','10⁻¹','1','10','10²','10³','10⁴'][round(log(datum.value)/LN10)+6]", "title": "F_Σ'^(N,N)"}},
           "color": {"field": "m", "type": "nominal", "scale": {"domain": ["B&D", "SN100PN", "GCN5082"], "range": ["#000000", "#ff0000", "#0000ff"]}, "legend": null},
           "strokeDash": {"field": "ls", "type": "nominal", "scale": {"domain": ["solid", "dashed"], "range": [[1, 0], [5, 3]]}, "legend": null}
         }},
        {"mark": {"type": "point", "opacity": 0},
         "encoding": {
           "x": {"field": "q", "type": "quantitative", "scale": {"domain": [-4, 204.5], "nice": false, "zero": false}, "axis": {"orient": "bottom", "values": [10, 20, 30, 40, 60, 70, 80, 90, 110, 120, 130, 140, 160, 170, 180, 190], "labels": false, "tickSize": -2.5, "title": null}},
           "y": {"field": "v", "type": "quantitative", "scale": {"type": "log", "domain": [0.00001, 1], "nice": false}, "axis": {"orient": "right", "values": [0.00001, 0.0001, 0.001, 0.01, 0.1, 1], "labels": false, "title": null}}
         }},
        {"mark": {"type": "point", "opacity": 0},
         "encoding": {
           "x": {"field": "q", "type": "quantitative", "scale": {"domain": [-4, 204.5], "nice": false, "zero": false}, "axis": {"orient": "top", "values": [0, 50, 100, 150, 200], "labels": false, "title": null}},
           "y": {"field": "v", "type": "quantitative", "scale": {"type": "log", "domain": [0.00001, 1], "nice": false}, "axis": null}
         }},
        {"mark": {"type": "point", "opacity": 0},
         "encoding": {
           "x": {"field": "q", "type": "quantitative", "scale": {"domain": [-4, 204.5], "nice": false, "zero": false}, "axis": {"orient": "top", "values": [10, 20, 30, 40, 60, 70, 80, 90, 110, 120, 130, 140, 160, 170, 180, 190], "labels": false, "tickSize": -2.5, "title": null}},
           "y": {"field": "v", "type": "quantitative", "scale": {"type": "log", "domain": [0.00001, 1], "nice": false}, "axis": null}
         }}
      ],
      "resolve": {"axis": {"x": "independent", "y": "independent"}}
    },
    {
      "width": 325, "height": 324,
      "data": {"name": "fspp"},
      "layer": [
        {"mark": {"type": "line", "clip": true, "strokeWidth": 1.4, "interpolate": "basis"},
         "encoding": {
           "x": {"field": "q", "type": "quantitative", "scale": {"domain": [-4, 204.5], "nice": false, "zero": false}, "axis": {"orient": "bottom", "values": [0, 50, 100, 150, 200], "title": "q (MeV)"}},
           "y": {"field": "v", "type": "quantitative", "scale": {"type": "log", "domain": [0.000001, 0.49], "nice": false}, "axis": {"orient": "left", "values": [0.000001, 0.00001, 0.0001, 0.001, 0.01, 0.1], "labelExpr": "['10⁻⁶','10⁻⁵','10⁻⁴','10⁻³','10⁻²','10⁻¹','1','10','10²','10³','10⁴'][round(log(datum.value)/LN10)+6]", "title": "F_Σ''^(N,N)"}},
           "color": {"field": "m", "type": "nominal", "scale": {"domain": ["B&D", "SN100PN", "GCN5082"], "range": ["#000000", "#ff0000", "#0000ff"]}, "legend": null},
           "strokeDash": {"field": "ls", "type": "nominal", "scale": {"domain": ["solid", "dashed"], "range": [[1, 0], [5, 3]]}, "legend": null}
         }},
        {"mark": {"type": "point", "opacity": 0},
         "encoding": {
           "x": {"field": "q", "type": "quantitative", "scale": {"domain": [-4, 204.5], "nice": false, "zero": false}, "axis": {"orient": "bottom", "values": [10, 20, 30, 40, 60, 70, 80, 90, 110, 120, 130, 140, 160, 170, 180, 190], "labels": false, "tickSize": -2.5, "title": null}},
           "y": {"field": "v", "type": "quantitative", "scale": {"type": "log", "domain": [0.000001, 0.49], "nice": false}, "axis": {"orient": "right", "values": [0.000001, 0.00001, 0.0001, 0.001, 0.01, 0.1], "labels": false, "title": null}}
         }},
        {"mark": {"type": "point", "opacity": 0},
         "encoding": {
           "x": {"field": "q", "type": "quantitative", "scale": {"domain": [-4, 204.5], "nice": false, "zero": false}, "axis": {"orient": "top", "values": [0, 50, 100, 150, 200], "labels": false, "title": null}},
           "y": {"field": "v", "type": "quantitative", "scale": {"type": "log", "domain": [0.000001, 0.49], "nice": false}, "axis": null}
         }},
        {"mark": {"type": "point", "opacity": 0},
         "encoding": {
           "x": {"field": "q", "type": "quantitative", "scale": {"domain": [-4, 204.5], "nice": false, "zero": false}, "axis": {"orient": "top", "values": [10, 20, 30, 40, 60, 70, 80, 90, 110, 120, 130, 140, 160, 170, 180, 190], "labels": false, "tickSize": -2.5, "title": null}},
           "y": {"field": "v", "type": "quantitative", "scale": {"type": "log", "domain": [0.000001, 0.49], "nice": false}, "axis": null}
         }}
      ],
      "resolve": {"axis": {"x": "independent", "y": "independent"}}
    },
    {
      "width": 325, "height": 324,
      "data": {"name": "fpp"},
      "layer": [
        {"mark": {"type": "line", "clip": true, "strokeWidth": 1.4, "interpolate": "basis"},
         "encoding": {
           "x": {"field": "q", "type": "quantitative", "scale": {"domain": [-4, 204.5], "nice": false, "zero": false}, "axis": {"orient": "bottom", "values": [0, 50, 100, 150, 200], "title": "q (MeV)"}},
           "y": {"field": "v", "type": "quantitative", "scale": {"type": "log", "domain": [0.01, 490], "nice": false}, "axis": {"orient": "left", "values": [0.01, 0.1, 1, 10, 100], "labelExpr": "['10⁻⁶','10⁻⁵','10⁻⁴','10⁻³','10⁻²','10⁻¹','1','10','10²','10³','10⁴'][round(log(datum.value)/LN10)+6]", "title": "F_Φ''^(N,N)"}},
           "color": {"field": "m", "type": "nominal", "scale": {"domain": ["B&D", "SN100PN", "GCN5082"], "range": ["#000000", "#ff0000", "#0000ff"]}, "legend": null},
           "strokeDash": {"field": "ls", "type": "nominal", "scale": {"domain": ["solid", "dashed"], "range": [[1, 0], [5, 3]]}, "legend": null}
         }},
        {"mark": {"type": "point", "opacity": 0},
         "encoding": {
           "x": {"field": "q", "type": "quantitative", "scale": {"domain": [-4, 204.5], "nice": false, "zero": false}, "axis": {"orient": "bottom", "values": [10, 20, 30, 40, 60, 70, 80, 90, 110, 120, 130, 140, 160, 170, 180, 190], "labels": false, "tickSize": -2.5, "title": null}},
           "y": {"field": "v", "type": "quantitative", "scale": {"type": "log", "domain": [0.01, 490], "nice": false}, "axis": {"orient": "right", "values": [0.01, 0.1, 1, 10, 100], "labels": false, "title": null}}
         }},
        {"mark": {"type": "point", "opacity": 0},
         "encoding": {
           "x": {"field": "q", "type": "quantitative", "scale": {"domain": [-4, 204.5], "nice": false, "zero": false}, "axis": {"orient": "top", "values": [0, 50, 100, 150, 200], "labels": false, "title": null}},
           "y": {"field": "v", "type": "quantitative", "scale": {"type": "log", "domain": [0.01, 490], "nice": false}, "axis": null}
         }},
        {"mark": {"type": "point", "opacity": 0},
         "encoding": {
           "x": {"field": "q", "type": "quantitative", "scale": {"domain": [-4, 204.5], "nice": false, "zero": false}, "axis": {"orient": "top", "values": [10, 20, 30, 40, 60, 70, 80, 90, 110, 120, 130, 140, 160, 170, 180, 190], "labels": false, "tickSize": -2.5, "title": null}},
           "y": {"field": "v", "type": "quantitative", "scale": {"type": "log", "domain": [0.01, 490], "nice": false}, "axis": null}
         }}
      ],
      "resolve": {"axis": {"x": "independent", "y": "independent"}}
    },
    {
      "width": 325, "height": 324,
      "data": {"name": "fpt"},
      "layer": [
        {"mark": {"type": "line", "clip": true, "strokeWidth": 1.4, "interpolate": "basis"},
         "encoding": {
           "x": {"field": "q", "type": "quantitative", "scale": {"domain": [-4, 204.5], "nice": false, "zero": false}, "axis": {"orient": "bottom", "values": [0, 50, 100, 150, 200], "title": "q (MeV)"}},
           "y": {"field": "v", "type": "quantitative", "scale": {"type": "log", "domain": [0.0001, 1], "nice": false}, "axis": {"orient": "left", "values": [0.0001, 0.001, 0.01, 0.1, 1], "labelExpr": "['10⁻⁶','10⁻⁵','10⁻⁴','10⁻³','10⁻²','10⁻¹','1','10','10²','10³','10⁴'][round(log(datum.value)/LN10)+6]", "title": "F_Φ̃'^(N,N)"}},
           "color": {"field": "m", "type": "nominal", "scale": {"domain": ["B&D", "SN100PN", "GCN5082"], "range": ["#000000", "#ff0000", "#0000ff"]}, "legend": null},
           "strokeDash": {"field": "ls", "type": "nominal", "scale": {"domain": ["solid", "dashed"], "range": [[1, 0], [5, 3]]}, "legend": null}
         }},
        {"mark": {"type": "point", "opacity": 0},
         "encoding": {
           "x": {"field": "q", "type": "quantitative", "scale": {"domain": [-4, 204.5], "nice": false, "zero": false}, "axis": {"orient": "bottom", "values": [10, 20, 30, 40, 60, 70, 80, 90, 110, 120, 130, 140, 160, 170, 180, 190], "labels": false, "tickSize": -2.5, "title": null}},
           "y": {"field": "v", "type": "quantitative", "scale": {"type": "log", "domain": [0.0001, 1], "nice": false}, "axis": {"orient": "right", "values": [0.0001, 0.001, 0.01, 0.1, 1], "labels": false, "title": null}}
         }},
        {"mark": {"type": "point", "opacity": 0},
         "encoding": {
           "x": {"field": "q", "type": "quantitative", "scale": {"domain": [-4, 204.5], "nice": false, "zero": false}, "axis": {"orient": "top", "values": [0, 50, 100, 150, 200], "labels": false, "title": null}},
           "y": {"field": "v", "type": "quantitative", "scale": {"type": "log", "domain": [0.0001, 1], "nice": false}, "axis": null}
         }},
        {"mark": {"type": "point", "opacity": 0},
         "encoding": {
           "x": {"field": "q", "type": "quantitative", "scale": {"domain": [-4, 204.5], "nice": false, "zero": false}, "axis": {"orient": "top", "values": [10, 20, 30, 40, 60, 70, 80, 90, 110, 120, 130, 140, 160, 170, 180, 190], "labels": false, "tickSize": -2.5, "title": null}},
           "y": {"field": "v", "type": "quantitative", "scale": {"type": "log", "domain": [0.0001, 1], "nice": false}, "axis": null}
         }}
      ],
      "resolve": {"axis": {"x": "independent", "y": "independent"}}
    }
  ]
}
